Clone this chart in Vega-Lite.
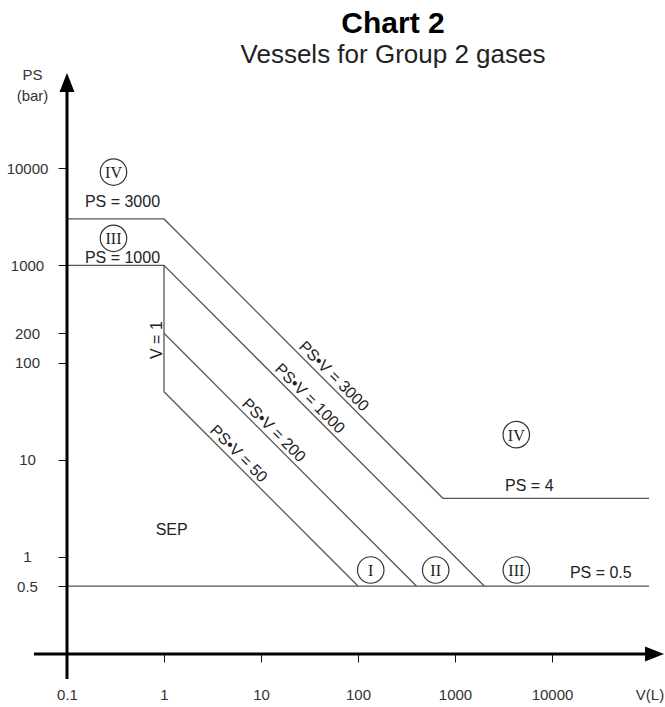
{
  "$schema": "https://vega.github.io/schema/vega-lite/v6.json",
  "width": 582,
  "height": 583,
  "autosize": {"type": "none"},
  "padding": {"left": 67, "top": 71, "right": 16, "bottom": 53},
  "background": "white",
  "config": {"view": {"stroke": null}, "font": "Liberation Sans"},
  "title": {
    "text": "Chart 2",
    "subtitle": "Vessels for Group 2 gases",
    "anchor": "middle",
    "dx": 35,
    "offset": -1,
    "font": "Liberation Sans",
    "fontSize": 30,
    "fontWeight": "bold",
    "color": "#000",
    "subtitleFont": "Liberation Sans",
    "subtitleFontSize": 26,
    "subtitleColor": "#222",
    "subtitlePadding": 3
  },
  "datasets": {
    "lines": [
      {"series": "a", "ord": 0, "V": 0.1, "PS": 3000},
      {"series": "a", "ord": 1, "V": 1, "PS": 3000},
      {"series": "a", "ord": 2, "V": 750, "PS": 4},
      {"series": "a", "ord": 3, "V": 100000, "PS": 4},
      {"series": "b", "ord": 0, "V": 0.1, "PS": 1000},
      {"series": "b", "ord": 1, "V": 1, "PS": 1000},
      {"series": "b", "ord": 2, "V": 2000, "PS": 0.5},
      {"series": "c", "ord": 0, "V": 1, "PS": 1000},
      {"series": "c", "ord": 1, "V": 1, "PS": 50},
      {"series": "d", "ord": 0, "V": 1, "PS": 200},
      {"series": "d", "ord": 1, "V": 400, "PS": 0.5},
      {"series": "e", "ord": 0, "V": 1, "PS": 50},
      {"series": "e", "ord": 1, "V": 100, "PS": 0.5},
      {"series": "f", "ord": 0, "V": 0.1, "PS": 0.5},
      {"series": "f", "ord": 1, "V": 100000, "PS": 0.5}
    ],
    "shafts": [
      {"part": "y", "V": 0.1, "PS": 0.0553, "V2": 0.1, "PS2": 71800},
      {"part": "x", "V": 0.0457, "PS": 0.1, "V2": 115000, "PS2": 0.1}
    ],
    "heads": [
      {"dir": "up", "V": 0.1, "PS": 95300},
      {"dir": "right", "V": 142900, "PS": 0.1}
    ],
    "labels": [
      {"kind": "h", "V": 0.373, "PS": 3981, "text": "PS = 3000"},
      {"kind": "h", "V": 0.373, "PS": 1057, "text": "PS = 1000"},
      {"kind": "h", "V": 1.2, "PS": 1.678, "text": "SEP"},
      {"kind": "h", "V": 5835, "PS": 4.76, "text": "PS = 4"},
      {"kind": "h", "V": 31850, "PS": 0.605, "text": "PS = 0.5"},
      {"kind": "d", "V": 48.4, "PS": 62, "text": "PS•V = 3000"},
      {"kind": "d", "V": 27.4, "PS": 36.5, "text": "PS•V = 1000"},
      {"kind": "d", "V": 11.6, "PS": 17.2, "text": "PS•V = 200"},
      {"kind": "d", "V": 5.06, "PS": 9.88, "text": "PS•V = 50"},
      {"kind": "v", "V": 1, "PS": 170, "text": "V = 1"}
    ],
    "cats": [
      {"V": 0.3015, "PS": 9120, "cat": "IV"},
      {"V": 0.3015, "PS": 1897, "cat": "III"},
      {"V": 135.3, "PS": 0.732, "cat": "I"},
      {"V": 632, "PS": 0.732, "cat": "II"},
      {"V": 4285, "PS": 0.732, "cat": "III"},
      {"V": 4285, "PS": 18.1, "cat": "IV"}
    ]
  },
  "encoding": {
    "x": {
      "field": "V", "type": "quantitative",
      "scale": {"type": "log", "domain": [0.1, 100000], "nice": false, "zero": false},
      "axis": {
        "orient": "bottom",
        "values": [0.1, 1, 10, 100, 1000, 10000],
        "labelExpr": "datum.value < 1 ? '0.1' : format(datum.value, 'd')",
        "domain": false, "grid": false,
        "ticks": true, "tickSize": 8, "tickColor": "#111", "tickWidth": 1,
        "labelFont": "Liberation Sans", "labelFontSize": 15, "labelColor": "#333",
        "labelPadding": 25, "labelFlush": false, "labelOverlap": false,
        "title": "V(L)", "titleX": 582.5, "titleY": 45, "titleAngle": 0,
        "titleAlign": "center", "titleBaseline": "alphabetic",
        "titleFont": "Liberation Sans", "titleFontSize": 15, "titleFontWeight": "normal", "titleColor": "#333"
      }
    },
    "y": {
      "field": "PS", "type": "quantitative",
      "scale": {"type": "log", "domain": [0.1, 100000], "nice": false, "zero": false},
      "axis": {
        "orient": "left",
        "values": [0.5, 1, 10, 100, 200, 1000, 10000],
        "labelExpr": "datum.value < 1 ? '0.5' : format(datum.value, 'd')",
        "domain": false, "grid": false,
        "ticks": true, "tickSize": 9, "tickColor": "#111", "tickWidth": 1,
        "labelFont": "Liberation Sans", "labelFontSize": 15, "labelColor": "#333",
        "labelAlign": "center", "labelBaseline": "middle", "labelPadding": 31,
        "labelFlush": false, "labelOverlap": false,
        "title": ["PS", "(bar)"], "titleX": -35, "titleY": 8, "titleAngle": 0,
        "titleAlign": "center", "titleBaseline": "alphabetic", "titleLineHeight": 21,
        "titleFont": "Liberation Sans", "titleFontSize": 15, "titleFontWeight": "normal", "titleColor": "#333"
      }
    }
  },
  "layer": [
    {
      "data": {"name": "lines"},
      "mark": {"type": "line", "color": "#555", "strokeWidth": 1.3},
      "encoding": {
        "detail": {"field": "series", "type": "nominal"},
        "order": {"field": "ord", "type": "quantitative"}
      }
    },
    {
      "data": {"name": "shafts"},
      "mark": {"type": "rule", "color": "#000", "strokeWidth": 3},
      "encoding": {
        "x2": {"field": "V2"},
        "y2": {"field": "PS2"}
      }
    },
    {
      "data": {"name": "heads"},
      "transform": [{"filter": "datum.dir == 'up'"}],
      "mark": {"type": "point", "shape": "M0,0 L-0.75,1.9 L0.75,1.9 Z", "size": 400, "filled": true, "color": "#000", "opacity": 1, "strokeWidth": 0}
    },
    {
      "data": {"name": "heads"},
      "transform": [{"filter": "datum.dir == 'right'"}],
      "mark": {"type": "point", "shape": "M0,0 L-1.9,-0.75 L-1.9,0.75 Z", "size": 400, "filled": true, "color": "#000", "opacity": 1, "strokeWidth": 0}
    },
    {
      "data": {"name": "labels"},
      "transform": [{"filter": "datum.kind == 'h'"}],
      "mark": {"type": "text", "font": "Liberation Sans", "fontSize": 16, "align": "center", "baseline": "alphabetic", "color": "#222"},
      "encoding": {"text": {"field": "text"}}
    },
    {
      "data": {"name": "labels"},
      "transform": [{"filter": "datum.kind == 'd'"}],
      "mark": {"type": "text", "font": "Liberation Sans", "fontSize": 16, "align": "center", "baseline": "alphabetic", "angle": 45, "dy": -4, "color": "#222"},
      "encoding": {"text": {"field": "text"}}
    },
    {
      "data": {"name": "labels"},
      "transform": [{"filter": "datum.kind == 'v'"}],
      "mark": {"type": "text", "font": "Liberation Sans", "fontSize": 16, "align": "center", "baseline": "alphabetic", "angle": 270, "dy": -2, "color": "#222"},
      "encoding": {"text": {"field": "text"}}
    },
    {
      "data": {"name": "cats"},
      "mark": {"type": "point", "shape": "circle", "size": 700, "filled": false, "color": "#333", "strokeWidth": 1.2, "opacity": 1}
    },
    {
      "data": {"name": "cats"},
      "mark": {"type": "text", "font": "Liberation Serif", "fontSize": 16, "align": "center", "baseline": "middle", "dy": 1, "color": "#222"},
      "encoding": {"text": {"field": "cat"}}
    }
  ]
}
